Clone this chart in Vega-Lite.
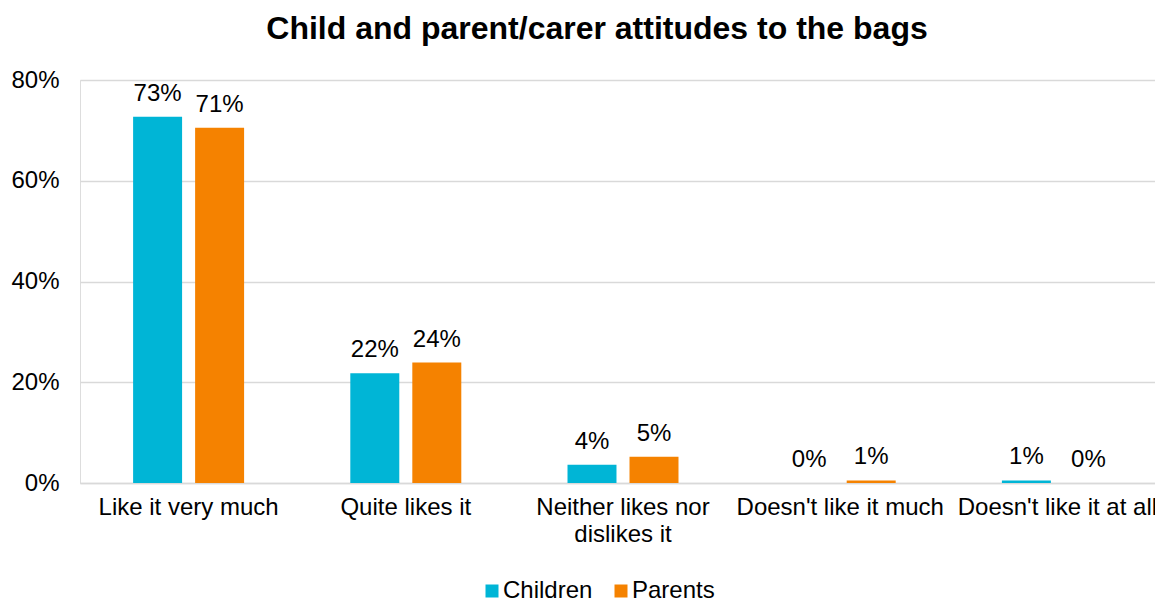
{
  "$schema": "https://vega.github.io/schema/vega-lite/v6.json",
  "autosize": {"type": "none"},
  "width": 1086,
  "height": 403,
  "padding": {"left": 80, "top": 80, "right": 0, "bottom": 115},
  "background": "white",
  "title": {
    "text": "Child and parent/carer attitudes to the bags",
    "font": "Liberation Sans",
    "fontSize": 32,
    "fontWeight": "bold",
    "color": "#000000",
    "anchor": "middle",
    "dx": -26,
    "offset": 22
  },
  "data": {
    "values": [
      {"response": "Like it very much", "group": "Children", "value": 0.727},
      {"response": "Like it very much", "group": "Parents", "value": 0.705},
      {"response": "Quite likes it", "group": "Children", "value": 0.218},
      {"response": "Quite likes it", "group": "Parents", "value": 0.239},
      {"response": "Neither likes nor dislikes it", "group": "Children", "value": 0.036},
      {"response": "Neither likes nor dislikes it", "group": "Parents", "value": 0.052},
      {"response": "Doesn't like it much", "group": "Children", "value": 0.0},
      {"response": "Doesn't like it much", "group": "Parents", "value": 0.005},
      {"response": "Doesn't like it at all", "group": "Children", "value": 0.005},
      {"response": "Doesn't like it at all", "group": "Parents", "value": 0.0}
    ]
  },
  "encoding": {
    "x": {
      "field": "response",
      "type": "nominal",
      "sort": null,
      "scale": {"paddingInner": 0.489, "paddingOuter": 0.2445},
      "axis": {
        "title": null,
        "labelAngle": 0,
        "labelFontSize": 24,
        "labelFont": "Liberation Sans",
        "labelColor": "#000000",
        "labelPadding": 12,
        "labelLimit": 0,
        "domain": true,
        "domainColor": "#d9d9d9",
        "domainWidth": 1.5,
        "ticks": false,
        "labelLineHeight": 27,
        "labelExpr": "datum.value == 'Neither likes nor dislikes it' ? ['Neither likes nor', 'dislikes it'] : datum.label"
      }
    },
    "xOffset": {
      "field": "group",
      "type": "nominal",
      "scale": {"paddingInner": 0.21, "paddingOuter": 0}
    },
    "y": {
      "field": "value",
      "type": "quantitative",
      "scale": {"domain": [0, 0.8]},
      "axis": {
        "title": null,
        "values": [0, 0.2, 0.4, 0.6, 0.8],
        "format": ".0%",
        "labelFontSize": 24,
        "labelFont": "Liberation Sans",
        "labelColor": "#000000",
        "labelPadding": 21,
        "domain": false,
        "ticks": false,
        "gridColor": "#d9d9d9",
        "gridWidth": 1.5
      }
    }
  },
  "layer": [
    {
      "mark": {"type": "bar"},
      "encoding": {
        "color": {
          "field": "group",
          "type": "nominal",
          "scale": {"domain": ["Children", "Parents"], "range": ["#00B5D6", "#F58200"]},
          "legend": {
            "title": null,
            "orient": "none",
            "direction": "horizontal",
            "legendX": 400,
            "legendY": 499,
            "symbolType": "square",
            "symbolSize": 169,
            "symbolStrokeWidth": 0,
            "labelFontSize": 24,
            "labelFont": "Liberation Sans",
            "labelColor": "#000000",
            "labelOffset": -1,
            "columnPadding": 16
          }
        }
      }
    },
    {
      "mark": {
        "type": "text",
        "baseline": "alphabetic",
        "dy": -16,
        "fontSize": 24,
        "font": "Liberation Sans",
        "color": "#000000"
      },
      "encoding": {
        "text": {"field": "value", "type": "quantitative", "format": ".0%"}
      }
    }
  ]
}
